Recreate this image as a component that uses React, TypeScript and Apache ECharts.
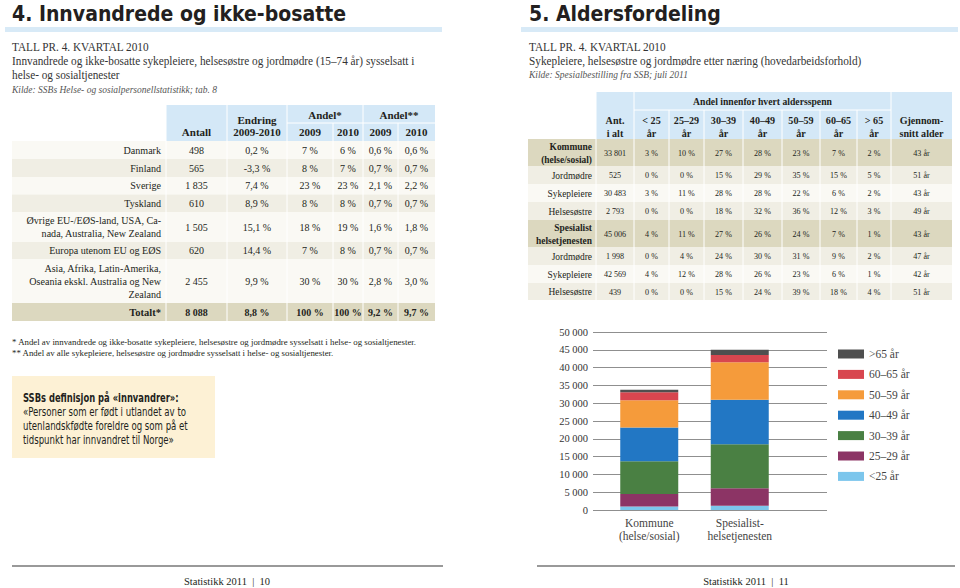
import React, { useEffect, useRef } from "react";
import * as echarts from "echarts";

const SERIF = "'Liberation Serif', 'DejaVu Serif', serif";
const COND = "'Liberation Sans Narrow', 'DejaVu Sans Condensed', sans-serif";

// ---------- Table 1 data ----------
const t1Labels = [
  "Danmark",
  "Finland",
  "Sverige",
  "Tyskland",
  "Øvrige EU-/EØS-land, USA, Ca-\nnada, Australia, New Zealand",
  "Europa utenom EU og EØS",
  "Asia, Afrika, Latin-Amerika,\nOseania ekskl. Australia og New\nZealand",
];
const t1Antall = ["498", "565", "1 835", "610", "1 505", "620", "2 455"];
const t1Endring = ["0,2 %", "-3,3 %", "7,4 %", "8,9 %", "15,1 %", "14,4 %", "9,9 %"];
const t1Andel09 = ["7 %", "8 %", "23 %", "8 %", "18 %", "7 %", "30 %"];
const t1Andel10 = ["6 %", "7 %", "23 %", "8 %", "19 %", "8 %", "30 %"];
const t1AndelAll09 = ["0,6 %", "0,7 %", "2,1 %", "0,7 %", "1,6 %", "0,7 %", "2,8 %"];
const t1AndelAll10 = ["0,6 %", "0,7 %", "2,2 %", "0,7 %", "1,8 %", "0,7 %", "3,0 %"];
const t1Total = ["Totalt*", "8 088", "8,8 %", "100 %", "100 %", "9,2 %", "9,7 %"];

// ---------- Table 2 data ----------
const t2Labels = [
  "Kommune\n(helse/sosial)",
  "Jordmødre",
  "Sykepleiere",
  "Helsesøstre",
  "Spesialist\nhelsetjenesten",
  "Jordmødre",
  "Sykepleiere",
  "Helsesøstre",
];
const t2Bold = [true, false, false, false, true, false, false, false];
const t2Ant = ["33 801", "525", "30 483", "2 793", "45 006", "1 998", "42 569", "439"];
const t2U25 = ["3 %", "0 %", "3 %", "0 %", "4 %", "0 %", "4 %", "0 %"];
const t2A2529 = ["10 %", "0 %", "11 %", "0 %", "11 %", "4 %", "12 %", "0 %"];
const t2A3039 = ["27 %", "15 %", "28 %", "18 %", "27 %", "24 %", "28 %", "15 %"];
const t2A4049 = ["28 %", "29 %", "28 %", "32 %", "26 %", "30 %", "26 %", "24 %"];
const t2A5059 = ["23 %", "35 %", "22 %", "36 %", "24 %", "31 %", "23 %", "39 %"];
const t2A6065 = ["7 %", "15 %", "6 %", "12 %", "7 %", "9 %", "6 %", "18 %"];
const t2O65 = ["2 %", "5 %", "2 %", "3 %", "1 %", "2 %", "1 %", "4 %"];
const t2Snitt = ["43 år", "51 år", "43 år", "49 år", "43 år", "47 år", "42 år", "51 år"];
const t2Head = ["Ant.\ni alt", "< 25\når", "25–29\når", "30–39\når", "40–49\når", "50–59\når", "60–65\når", "> 65\når", "Gjennom-\nsnitt alder"];

// ---------- Chart data ----------
const barCats = ["Kommune\n(helse/sosial)", "Spesialist-\nhelsetjenesten"];
const ageGroups = ["<25 år", "25–29 år", "30–39 år", "40–49 år", "50–59 år", "60–65 år", ">65 år"];
const kommuneVals = [1000, 3500, 9200, 9450, 7650, 2250, 750];
const spesialistVals = [1200, 4900, 12400, 12450, 10550, 2050, 1450];

const ageColors = ["#7cc6ec", "#8c3465", "#4a8043", "#2277c4", "#f59b3b", "#d8464f", "#4f4f4f"];

const LIGHT = "#faf9f4";
const BEIGE = "#f0eee4";
const TAN = "#dcd8bf";
const HEADBLUE = "#d4e8f7";

function txt(x: number, y: number, text: string, font: string, opts: any = {}) {
  return {
    type: "text",
    x,
    y,
    scaleX: opts.sx || 1,
    silent: true,
    style: {
      text,
      font,
      fill: opts.fill || "#231f20",
      align: opts.align || "left",
      verticalAlign: "middle",
      lineHeight: opts.lineHeight || undefined,
    },
  };
}
function rect(x: number, y: number, w: number, h: number, fill: string) {
  return { type: "rect", silent: true, shape: { x, y, width: w, height: h }, style: { fill } };
}
function line(x1: number, y1: number, x2: number, y2: number, stroke: string, w = 1) {
  return { type: "line", silent: true, shape: { x1, y1, x2, y2 }, style: { stroke, lineWidth: w } };
}

function buildGraphics() {
  const g: any[] = [];
  // ---- Left page header ----
  g.push(txt(12, 14, "4. Innvandrede og ikke-bosatte", `bold 21px ${COND}`));
  g.push(rect(5, 27, 437, 5, "#d8eaf7"));
  g.push(txt(12, 47, "TALL PR. 4. KVARTAL 2010", `11.5px ${SERIF}`, { fill: "#333", sx: 0.98 }));
  g.push(txt(12, 61, "Innvandrede og ikke-bosatte sykepleiere, helsesøstre og jordmødre (15–74 år) sysselsatt i", `11.5px ${SERIF}`, { fill: "#333", sx: 0.98 }));
  g.push(txt(12, 75, "helse- og sosialtjenester", `11.5px ${SERIF}`, { fill: "#333", sx: 0.98 }));
  g.push(txt(12, 89, "Kilde: SSBs Helse- og sosialpersonellstatistikk; tab. 8", `italic 10px ${SERIF}`, { fill: "#555", sx: 0.95 }));

  // ---- Table 1 ----
  const r1 = [141, 159, 177, 194.5, 212, 242, 259, 303, 321];
  const centers1 = [196.5, 257, 310, 348, 380.5, 416.5];
  const rowFill1 = [LIGHT, BEIGE, LIGHT, BEIGE, LIGHT, BEIGE, LIGHT, TAN];
  g.push(rect(166, 105, 269, 36, HEADBLUE));
  for (let i = 0; i < 8; i++) g.push(rect(12, r1[i], 423, r1[i + 1] - r1[i], rowFill1[i]));
  [166, 227, 287, 363].forEach((x) => g.push(line(x, 105, x, 321, "#ffffff", 1)));
  [333, 398].forEach((x) => g.push(line(x, 123, x, 321, "#ffffff", 1)));
  g.push(line(287, 123, 435, 123, "#ffffff", 1));
  const hf = `bold 11px ${SERIF}`;
  g.push(txt(196.5, 131.5, "Antall", hf, { align: "center" }));
  g.push(txt(257, 120, "Endring", hf, { align: "center" }));
  g.push(txt(257, 131.5, "2009-2010", hf, { align: "center" }));
  g.push(txt(325, 114.5, "Andel*", hf, { align: "center" }));
  g.push(txt(399, 114.5, "Andel**", hf, { align: "center" }));
  ["2009", "2010", "2009", "2010"].forEach((s, i) => g.push(txt(centers1[i + 2], 131.5, s, hf, { align: "center" })));
  const cols1 = [t1Antall, t1Endring, t1Andel09, t1Andel10, t1AndelAll09, t1AndelAll10];
  const lf = `10.5px ${SERIF}`;
  const nf = `10px ${SERIF}`;
  for (let i = 0; i < 7; i++) {
    const cy = (r1[i] + r1[i + 1]) / 2;
    g.push(txt(161, cy, t1Labels[i], lf, { align: "right", lineHeight: 13, sx: 0.96 }));
    cols1.forEach((col, j) => g.push(txt(centers1[j], cy, col[i], nf, { align: "center" })));
  }
  {
    const cy = (r1[7] + r1[8]) / 2;
    g.push(txt(161, cy, t1Total[0], `bold 10.5px ${SERIF}`, { align: "right" }));
    for (let j = 0; j < 6; j++) g.push(txt(centers1[j], cy, t1Total[j + 1], `bold 10.5px ${SERIF}`, { align: "center", sx: 0.95 }));
  }
  // footnotes
  g.push(txt(12, 342, "* Andel av innvandrede og ikke-bosatte sykepleiere, helsesøstre og jordmødre sysselsatt i helse- og sosialtjenester.", `9px ${SERIF}`, { sx: 0.98 }));
  g.push(txt(12, 353, "** Andel av alle sykepleiere, helsesøstre og jordmødre sysselsatt i helse- og sosialtjenester.", `9px ${SERIF}`, { sx: 0.98 }));
  // definition box
  g.push(rect(12, 376, 203, 82, "#fdf1d5"));
  g.push(txt(23, 398, "SSBs definisjon på «innvandrer»:", `bold 11.5px ${COND}`, { sx: 0.81 }));
  g.push(txt(23, 412, "«Personer som er født i utlandet av to", `11.5px ${COND}`, { sx: 0.83 }));
  g.push(txt(23, 426, "utenlandskfødte foreldre og som på et", `11.5px ${COND}`, { sx: 0.83 }));
  g.push(txt(23, 440, "tidspunkt har innvandret til Norge»", `11.5px ${COND}`, { sx: 0.83 }));

  // ---- Right page header ----
  g.push(txt(529, 14, "5. Aldersfordeling", `bold 21px ${COND}`));
  g.push(rect(521, 27, 437, 5, "#d8eaf7"));
  g.push(txt(529, 47, "TALL PR. 4. KVARTAL 2010", `11.5px ${SERIF}`, { fill: "#333", sx: 0.98 }));
  g.push(txt(529, 61, "Sykepleiere, helsesøstre og jordmødre etter næring (hovedarbeidsforhold)", `11.5px ${SERIF}`, { fill: "#333", sx: 0.98 }));
  g.push(txt(529, 74, "Kilde: Spesialbestilling fra SSB; juli 2011", `italic 10px ${SERIF}`, { fill: "#555", sx: 0.95 }));

  // ---- Table 2 ----
  const r2 = [139, 166, 184, 202, 220, 247, 265, 283, 300];
  const c2 = [596, 634, 669, 704, 743, 782, 820, 857, 891, 952];
  const rowFill2 = [TAN, BEIGE, LIGHT, BEIGE, TAN, BEIGE, LIGHT, BEIGE];
  g.push(rect(596, 92, 356, 47, HEADBLUE));
  for (let i = 0; i < 8; i++) g.push(rect(528, r2[i], 424, r2[i + 1] - r2[i], rowFill2[i]));
  [596, 634, 891].forEach((x) => g.push(line(x, 92, x, 300, "#ffffff", 1)));
  [669, 704, 743, 782, 820, 857].forEach((x) => g.push(line(x, 110, x, 300, "#ffffff", 1)));
  g.push(line(634, 110, 891, 110, "#ffffff", 1));
  g.push(txt(762.5, 101, "Andel innenfor hvert aldersspenn", `bold 11px ${SERIF}`, { align: "center", sx: 0.88 }));
  for (let j = 0; j < 9; j++) {
    const cx = (c2[j] + c2[j + 1]) / 2;
    g.push(txt(cx, 126.5, t2Head[j], `bold 11px ${SERIF}`, { align: "center", lineHeight: 13, sx: 0.92 }));
  }
  const cols2 = [t2Ant, t2U25, t2A2529, t2A3039, t2A4049, t2A5059, t2A6065, t2O65, t2Snitt];
  for (let i = 0; i < 8; i++) {
    const cy = (r2[i] + r2[i + 1]) / 2;
    g.push(txt(592, cy, t2Labels[i], `${t2Bold[i] ? "bold " : ""}10.5px ${SERIF}`, { align: "right", lineHeight: 13, sx: 0.9 }));
    cols2.forEach((col, j) => {
      const cx = (c2[j] + c2[j + 1]) / 2;
      g.push(txt(cx, cy, col[i], `9px ${SERIF}`, { align: "center", sx: 0.9 }));
    });
  }

  // ---- Footers ----
  g.push(line(12, 566, 443, 566, "#999999", 2));
  g.push(line(537, 566, 955, 566, "#999999", 2));
  g.push(txt(227, 581, "Statistikk 2011  |  10", `10.5px ${SERIF}`, { align: "center" }));
  g.push(txt(746, 581, "Statistikk 2011  |  11", `10.5px ${SERIF}`, { align: "center" }));
  return g;
}

function fmt(v: number) {
  return String(v).replace(/\B(?=(\d{3})+(?!\d))/g, " ");
}

export default function App() {
  const ref = useRef<HTMLDivElement>(null);
  useEffect(() => {
    if (!ref.current) return;
    const chart = echarts.init(ref.current, null, { renderer: "svg" });
    chart.setOption({
      animation: false,
      backgroundColor: "#ffffff",
      textStyle: { fontFamily: SERIF },
      grid: [
        { left: 593, top: 332, width: 234, height: 178 },
        { left: 604, top: 332, width: 181, height: 178 },
      ],
      xAxis: [
        { type: "category", gridIndex: 0, data: barCats, show: false },
        {
          type: "category",
          gridIndex: 1,
          data: barCats,
          axisLine: { show: false },
          axisTick: { show: false },
          axisLabel: { margin: 6, fontSize: 11.5, lineHeight: 13, color: "#444", fontFamily: SERIF },
        },
      ],
      yAxis: [
        {
          type: "value",
          gridIndex: 0,
          min: 0,
          max: 50000,
          interval: 5000,
          axisLine: { show: false },
          axisTick: { show: false },
          axisLabel: { formatter: fmt, margin: 5, fontSize: 10.5, color: "#333", fontFamily: SERIF },
          splitLine: { lineStyle: { color: "#8f8f8f", width: 1.2 } },
        },
        { type: "value", gridIndex: 1, min: 0, max: 50000, interval: 5000, show: false, splitLine: { show: false } },
      ],
      legend: {
        orient: "vertical",
        left: 838,
        top: 348,
        padding: 0,
        data: [...ageGroups].reverse(),
        icon: "rect",
        itemWidth: 26,
        itemHeight: 9,
        itemGap: 8.4,
        textStyle: { fontSize: 11.5, lineHeight: 12, color: "#444", fontFamily: SERIF },
        selectedMode: false,
      },
      graphic: buildGraphics(),
      series: ageGroups.map((name, i) => ({
        type: "bar",
        name,
        stack: "total",
        xAxisIndex: 1,
        yAxisIndex: 1,
        barWidth: 58,
        data: [kommuneVals[i], spesialistVals[i]],
        itemStyle: { color: ageColors[i] },
      })),
    });
    return () => chart.dispose();
  }, []);
  return <div ref={ref} style={{ position: "absolute", left: 0, top: 0, width: 960, height: 588 }} />;
}
